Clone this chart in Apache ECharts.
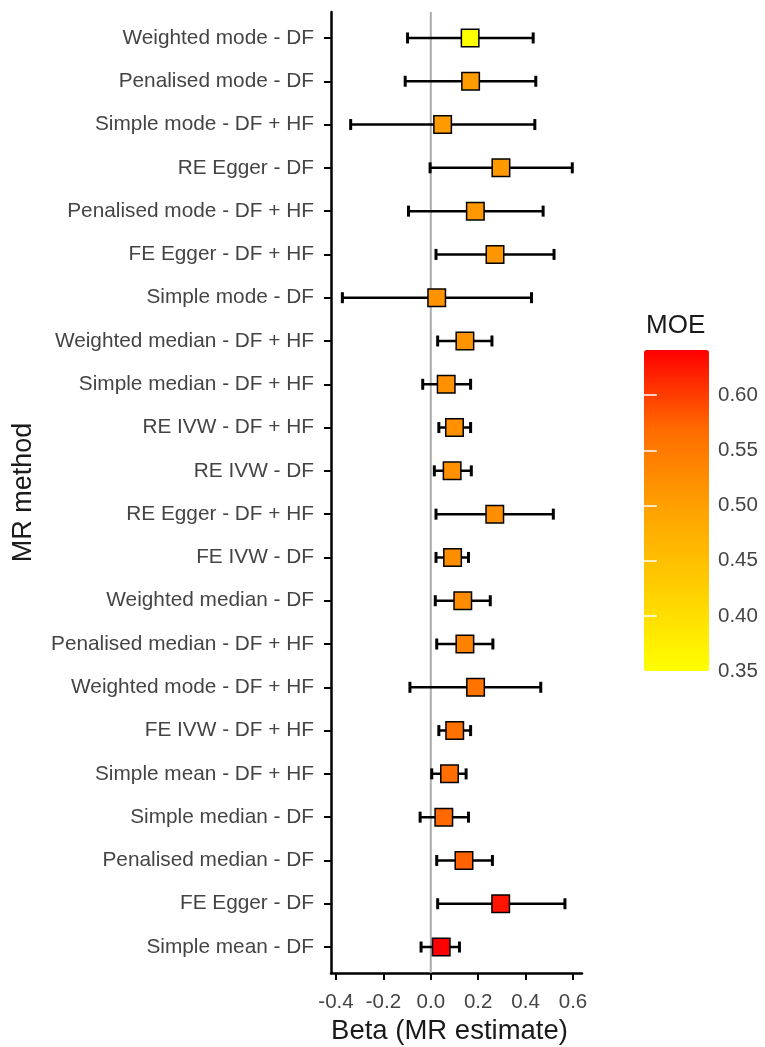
<!DOCTYPE html>
<html>
<head>
<meta charset="utf-8">
<script src="https://cdn.jsdelivr.net/npm/echarts@6/dist/echarts.min.js"></script>
<style>
html,body{margin:0;padding:0;background:#fff;}
#chart{width:765px;height:1047px;}
</style>
</head>
<body>
<div id="chart"></div>
<script>
// ---- data (top to bottom) ----
const categories = [
  "Weighted mode - DF",
  "Penalised mode - DF",
  "Simple mode - DF + HF",
  "RE Egger - DF",
  "Penalised mode - DF + HF",
  "FE Egger - DF + HF",
  "Simple mode - DF",
  "Weighted median - DF + HF",
  "Simple median - DF + HF",
  "RE IVW - DF + HF",
  "RE IVW - DF",
  "RE Egger - DF + HF",
  "FE IVW - DF",
  "Weighted median - DF",
  "Penalised median - DF + HF",
  "Weighted mode - DF + HF",
  "FE IVW - DF + HF",
  "Simple mean - DF + HF",
  "Simple median - DF",
  "Penalised median - DF",
  "FE Egger - DF",
  "Simple mean - DF"
];
const beta  = [0.166,0.168,0.050,0.296,0.188,0.271,0.025,0.144,0.065,0.100,0.090,0.270,0.092,0.135,0.144,0.189,0.101,0.079,0.055,0.140,0.295,0.044];
const lower = [-0.098,-0.108,-0.338,-0.003,-0.094,0.022,-0.373,0.029,-0.034,0.034,0.015,0.022,0.022,0.019,0.025,-0.088,0.034,0.004,-0.045,0.025,0.029,-0.041];
const upper = [0.432,0.443,0.439,0.597,0.474,0.520,0.425,0.258,0.168,0.168,0.171,0.517,0.159,0.251,0.262,0.464,0.168,0.149,0.159,0.260,0.566,0.121];
const moe   = [0.350,0.505,0.507,0.509,0.511,0.513,0.515,0.517,0.519,0.520,0.521,0.522,0.524,0.527,0.540,0.556,0.562,0.566,0.570,0.576,0.627,0.641];
const xTicks = [-0.4,-0.2,0.0,0.2,0.4,0.6];
const legendTicks = [0.35,0.40,0.45,0.50,0.55,0.60];

const FONT = "Liberation Sans";
const n = categories.length;
const yIdx = categories.map((c,i)=>i);
const LABEL = '#444444';

const chart = echarts.init(document.getElementById('chart'), null, {renderer:'canvas'});
const option = {
  animation:false,
  backgroundColor:'#ffffff',
  textStyle:{fontFamily:FONT},
  title:{text:'MOE', left:646, top:313, padding:0,
    textStyle:{fontFamily:FONT, fontSize:26, fontWeight:'normal', color:'#1a1a1a'}},
  grid:[
    {left:331, top:12, width:251, height:961, containLabel:false, outerBoundsMode:'none'},
    {left:644, top:350, width:65, height:321, containLabel:false, outerBoundsMode:'none'}
  ],
  xAxis:[
    {type:'value', gridIndex:0, min:-0.421, max:0.638,
     axisLine:{show:true, onZero:false, lineStyle:{color:'#000', width:2.5}},
     axisTick:{show:true, length:7, lineStyle:{color:'#000', width:2}, customValues:xTicks},
     axisLabel:{customValues:xTicks, formatter:v=>(+v).toFixed(1), fontSize:20.5, color:LABEL, margin:19, fontFamily:FONT},
     splitLine:{show:false},
     name:'Beta (MR estimate)', nameLocation:'middle', nameGap:43,
     nameTextStyle:{fontSize:27.5, color:'#1a1a1a', fontFamily:FONT, padding:[0,14,0,0]}},
    {type:'value', gridIndex:1, min:0, max:1, show:false}
  ],
  yAxis:[
    {type:'value', gridIndex:0, min:-0.6, max:n-1+0.6, inverse:true,
     axisLine:{show:true, onZero:false, lineStyle:{color:'#000', width:2.5}},
     axisTick:{show:true, length:7, lineStyle:{color:'#000', width:2}, customValues:yIdx},
     axisLabel:{customValues:yIdx, formatter:v=>categories[Math.round(v)], fontSize:20.8, color:LABEL, margin:17, fontFamily:FONT},
     splitLine:{show:false},
     name:'MR method', nameLocation:'middle', nameGap:294, nameRotate:90,
     nameTextStyle:{fontSize:27, color:'#1a1a1a', fontFamily:FONT}},
    {type:'value', gridIndex:1, position:'right', min:0.35, max:0.641, z:10,
     axisLine:{show:false},
     axisTick:{show:true, inside:true, length:13, lineStyle:{color:'#ffffff', width:1.5}, customValues:[0.40,0.45,0.50,0.55,0.60]},
     axisLabel:{customValues:legendTicks, formatter:v=>(+v).toFixed(2), fontSize:20.5, color:LABEL, margin:9, fontFamily:FONT},
     splitLine:{show:false}},
    {type:'value', gridIndex:1, position:'left', min:0.35, max:0.641, z:10,
     axisLine:{show:false},
     axisTick:{show:true, inside:true, length:13, lineStyle:{color:'#ffffff', width:1.5}, customValues:[0.40,0.45,0.50,0.55,0.60]},
     axisLabel:{show:false},
     splitLine:{show:false}}
  ],
  visualMap:{
    type:'continuous', min:0.35, max:0.641, dimension:2, seriesIndex:2,
    orient:'vertical', left:644, top:350, itemWidth:65, itemHeight:321,
    calculable:false, padding:0, showLabel:false,
    inRange:{color:['#FFFF00','#FFD000','#FFA300','#FF6C00','#FF0000']}
  },
  series:[
    {type:'line', xAxisIndex:0, yAxisIndex:0, z:1, silent:true, symbol:'none',
     lineStyle:{color:'#ababab', width:2},
     data:[[0,-0.6],[0,n-1+0.6]]},
    {type:'custom', xAxisIndex:0, yAxisIndex:0, z:2, silent:true,
     encode:{x:[0,1], y:2},
     data:lower.map((l,i)=>[l, upper[i], i]),
     renderItem:function(params, api){
       const p1 = api.coord([api.value(0), api.value(2)]);
       const p2 = api.coord([api.value(1), api.value(2)]);
       const h = 5.5;
       const st = {stroke:'#000', lineWidth:2.5};
       return {type:'group', children:[
         {type:'line', shape:{x1:p1[0],y1:p1[1],x2:p2[0],y2:p2[1]}, style:st},
         {type:'line', shape:{x1:p1[0],y1:p1[1]-h,x2:p1[0],y2:p1[1]+h}, style:{stroke:'#000', lineWidth:3}},
         {type:'line', shape:{x1:p2[0],y1:p2[1]-h,x2:p2[0],y2:p2[1]+h}, style:{stroke:'#000', lineWidth:3}}
       ]};
     }},
    {type:'scatter', xAxisIndex:0, yAxisIndex:0, z:3, symbol:'rect', symbolSize:17.5,
     itemStyle:{borderColor:'#000', borderWidth:1.5, opacity:1},
     data:beta.map((b,i)=>[b, i, moe[i]])}
  ]
};
chart.setOption(option);
</script>
</body>
</html>
